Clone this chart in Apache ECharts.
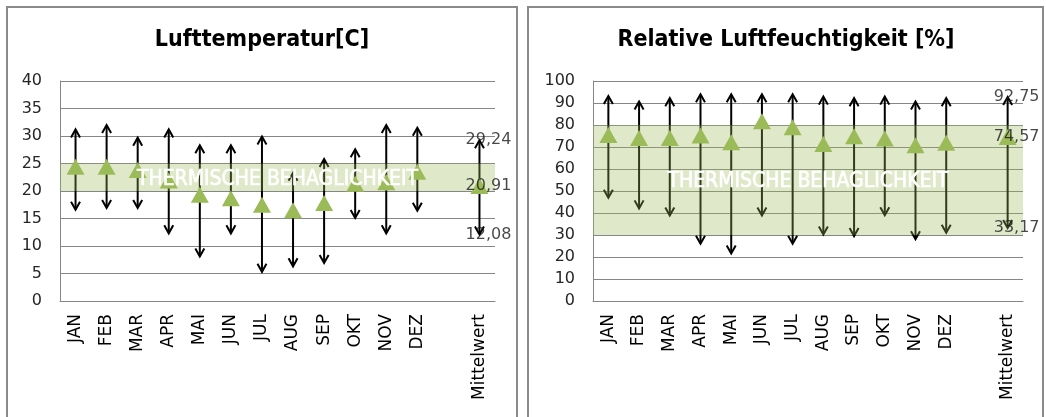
<!DOCTYPE html>
<html>
<head>
<meta charset="utf-8">
<script src="https://cdn.jsdelivr.net/npm/echarts@6/dist/echarts.min.js"></script>
<style>
  html, body { margin: 0; padding: 0; background: #fff; }
  #chart { width: 1046px; height: 417px; }
</style>
</head>
<body>
<div id="chart"></div>
<script>
// Categories: twelve months, a spacer, and the yearly average
const months = ['JAN', 'FEB', 'MAR', 'APR', 'MAI', 'JUN', 'JUL', 'AUG', 'SEP', 'OKT', 'NOV', 'DEZ'];
const avgLabel = 'Mittelwert';
const categories = months.concat(['', avgLabel]);

// Air temperature [°C]: monthly maximum, mean, minimum
const tempMax  = [31.2, 32.0, 29.7, 31.2, 28.3, 28.3, 29.9, 23.3, 25.8, 27.6, 32.0, 31.5];
const tempMean = [24.4, 24.4, 23.8, 21.9, 19.3, 18.7, 17.5, 16.5, 17.8, 21.3, 21.6, 23.5];
const tempMin  = [16.6, 16.9, 16.9, 12.3, 8.1, 12.3, 5.3, 6.3, 6.9, 15.1, 12.3, 16.4];
const tempAvg  = [29.24, 20.91, 12.08];   // max, mean, min of the year

// Relative humidity [%]: monthly maximum, mean, minimum
const humMax  = [93.2, 90.7, 92.2, 94.0, 94.0, 94.0, 94.0, 92.9, 92.2, 92.9, 90.7, 92.2];
const humMean = [75.4, 74.1, 74.1, 75.2, 72.2, 81.7, 79.0, 71.4, 74.9, 73.9, 70.8, 71.9];
const humMin  = [46.9, 42.1, 38.9, 26.0, 21.6, 38.9, 26.0, 30.2, 29.5, 39.0, 28.1, 31.0];
const humAvg  = [92.75, 74.57, 33.17];

// Comfort ranges
const comfortTemp = [20, 25];
const comfortHum  = [30, 80];
const comfortText = 'THERMISCHE BEHAGLICHKEIT';

// Axis scales
const tempAxis = { min: 0, max: 40, interval: 5 };
const humAxis  = { min: 0, max: 100, interval: 10 };

const titles = ['Lufttemperatur[C]', 'Relative Luftfeuchtigkeit [%]'];

const GRID = '#868686';
const GREEN = '#9bbb59';
const avgIndex = categories.length - 1;
const fmt = v => v.toFixed(2).replace('.', ',');

// Vertical double-headed arrow from the maximum down to the minimum
function arrowRange(params, api) {
  const x = api.value(0);
  const top = api.coord([x, api.value(1)]);
  const bot = api.coord([x, api.value(2)]);
  const hw = 4.5, hl = 8;
  const st = { stroke: '#000', lineWidth: 2, fill: null };
  return {
    type: 'group',
    children: [
      { type: 'line', shape: { x1: top[0], y1: top[1] + 1, x2: bot[0], y2: bot[1] - 1 }, style: st },
      { type: 'polyline', shape: { points: [[top[0] - hw, top[1] + hl], [top[0], top[1]], [top[0] + hw, top[1] + hl]] }, style: st },
      { type: 'polyline', shape: { points: [[bot[0] - hw, bot[1] - hl], [bot[0], bot[1]], [bot[0] + hw, bot[1] - hl]] }, style: st }
    ]
  };
}

// Translucent comfort band across the full plot width
function bandRect(params, api) {
  const cs = params.coordSys;
  const top = api.coord([0, api.value(2)])[1];
  const bot = api.coord([0, api.value(1)])[1];
  return {
    type: 'rect',
    shape: { x: cs.x, y: top, width: cs.width, height: bot - top },
    style: { fill: 'rgba(155,187,89,0.32)' }
  };
}

// Caption centred in the comfort band
function bandLabel(params, api) {
  const cs = params.coordSys;
  const top = api.coord([0, api.value(2)])[1];
  const bot = api.coord([0, api.value(1)])[1];
  return {
    type: 'text',
    x: cs.x + cs.width / 2,
    y: (top + bot) / 2 + 2,
    style: {
      text: comfortText,
      fill: '#ffffff',
      stroke: '#ffffff',
      lineWidth: 0.6,
      align: 'center',
      verticalAlign: 'middle',
      font: '21px "DejaVu Sans Condensed", "DejaVu Sans", sans-serif'
    }
  };
}

function panelSeries(idx, maxArr, meanArr, minArr, avg, band) {
  const ranges = months.map((m, i) => [i, maxArr[i], minArr[i]]).concat([[avgIndex, avg[0], avg[2]]]);
  const means = months.map((m, i) => [i, meanArr[i]]).concat([[avgIndex, avg[1]]]);
  const avgPoints = avg.map(v => [avgIndex, v]);
  const axes = { xAxisIndex: idx, yAxisIndex: idx };
  return [
    Object.assign({ type: 'custom', z: 2, renderItem: arrowRange, encode: { x: 0, y: [1, 2] }, data: ranges, silent: true }, axes),
    Object.assign({ type: 'custom', z: 3, renderItem: bandRect, encode: { x: 0, y: [1, 2] }, data: [[0, band[0], band[1]]], silent: true }, axes),
    Object.assign({
      type: 'scatter', z: 4, symbol: 'triangle', symbolSize: [18, 16],
      itemStyle: { color: GREEN, opacity: 1 }, data: means, silent: true
    }, axes),
    Object.assign({
      type: 'scatter', z: 5, symbolSize: 0, data: avgPoints, silent: true,
      label: {
        show: true, position: 'inside', offset: [9, 0],
        formatter: p => fmt(p.value[1]),
        color: '#1a1a1a', fontFamily: 'DejaVu Sans', fontSize: 16
      }
    }, axes),
    Object.assign({ type: 'custom', z: 6, renderItem: bandLabel, encode: { x: 0, y: [1, 2] }, data: [[0, band[0], band[1]]], silent: true }, axes)
  ];
}

function xAxis(idx) {
  return {
    type: 'category', gridIndex: idx, data: categories,
    axisLine: { lineStyle: { color: GRID, width: 1 } },
    axisTick: { show: false },
    axisLabel: { rotate: 90, interval: 0, margin: 13, color: '#000', fontFamily: 'DejaVu Sans', fontSize: 17 },
    splitLine: { show: false }
  };
}

function yAxis(idx, scale) {
  return {
    type: 'value', gridIndex: idx, min: scale.min, max: scale.max, interval: scale.interval,
    axisLine: { show: true, lineStyle: { color: GRID, width: 1 } },
    axisTick: { show: false },
    axisLabel: { margin: 18, color: '#262626', fontFamily: 'DejaVu Sans', fontSize: 16 },
    splitLine: { show: true, lineStyle: { color: GRID, width: 1 } }
  };
}

const chart = echarts.init(document.getElementById('chart'), null, { renderer: 'canvas' });
chart.setOption({
  animation: false,
  backgroundColor: '#fff',
  grid: [
    { left: 60, right: 551, top: 81, bottom: 116 },
    { left: 593, right: 23, top: 81, bottom: 116 }
  ],
  xAxis: [xAxis(0), xAxis(1)],
  yAxis: [yAxis(0, tempAxis), yAxis(1, humAxis)],
  series: panelSeries(0, tempMax, tempMean, tempMin, tempAvg, comfortTemp)
    .concat(panelSeries(1, humMax, humMean, humMin, humAvg, comfortHum)),
  graphic: [
    { type: 'rect', shape: { x: 7, y: 7, width: 510, height: 440 }, style: { fill: null, stroke: '#8a8a8a', lineWidth: 2 }, silent: true },
    { type: 'rect', shape: { x: 528, y: 7, width: 515, height: 440 }, style: { fill: null, stroke: '#8a8a8a', lineWidth: 2 }, silent: true },
    { type: 'text', x: 262, y: 40, style: { text: titles[0], align: 'center', verticalAlign: 'middle', fill: '#000', font: 'bold 23px "DejaVu Sans Condensed", "DejaVu Sans", sans-serif' }, silent: true },
    { type: 'text', x: 786, y: 40, style: { text: titles[1], align: 'center', verticalAlign: 'middle', fill: '#000', font: 'bold 23px "DejaVu Sans Condensed", "DejaVu Sans", sans-serif' }, silent: true }
  ]
});
</script>
</body>
</html>
